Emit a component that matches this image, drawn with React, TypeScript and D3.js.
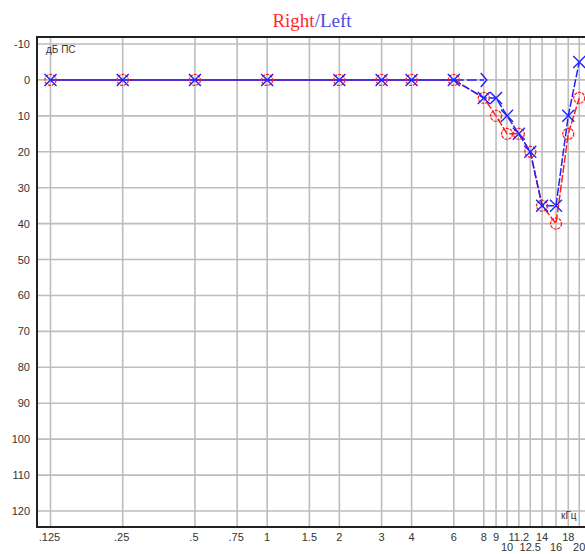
import React, { useEffect, useRef } from 'react';
import * as d3 from 'd3';

const freqTicks = [0.125, 0.25, 0.5, 0.75, 1, 1.5, 2, 3, 4, 6, 8, 9, 10, 11.2, 12.5, 14, 16, 18, 20];
const freqLabels = ['.125', '.25', '.5', '.75', '1', '1.5', '2', '3', '4', '6', '8', '9', '10', '11.2', '12.5', '14', '16', '18', '20'];
const lowerRow = ['10', '12.5', '16', '20'];
const dbTicks = [-10, 0, 10, 20, 30, 40, 50, 60, 70, 80, 90, 100, 110, 120];

const freqs = [0.125, 0.25, 0.5, 1, 2, 3, 4, 6, 8, 9, 10, 11.2, 12.5, 14, 16, 18, 20];
const rightAir = [0, 0, 0, 0, 0, 0, 0, 0, 5, 10, 15, 15, 20, 35, 40, 15, 5];
const leftAir = [0, 0, 0, 0, 0, 0, 0, 0, 5, 5, 10, 15, 20, 35, 35, 10, -5];
const boneFreqs = [0.25, 0.5, 1, 2, 3, 4, 6, 8];
const leftBone = [0, 0, 0, 0, 0, 0, 0, 0];

const App = () => {
    const ref = useRef<SVGSVGElement>(null);

    useEffect(() => {
        const svg = d3.select(ref.current);
        svg.selectAll('*').remove();

        const left = 37, top = 37, bottom = 527, right = 600;
        const x = d3.scaleLog().base(2).domain([0.125, 16]).range([50.5, 556]);
        const y = d3.scaleLinear().domain([-10, 120]).range([44, 511]);

        const g = svg.append('g');

        // grid
        g.selectAll('line.v').data(freqTicks).enter().append('line')
            .attr('x1', d => x(d)).attr('x2', d => x(d))
            .attr('y1', top).attr('y2', bottom)
            .attr('stroke', '#bdbdbd').attr('stroke-width', 1.6);
        g.selectAll('line.h').data(dbTicks).enter().append('line')
            .attr('x1', left).attr('x2', right)
            .attr('y1', d => y(d)).attr('y2', d => y(d))
            .attr('stroke', '#bdbdbd').attr('stroke-width', 1.6);

        // frame
        g.append('path')
            .attr('d', `M${right},${top}H${left}V${bottom}H${right}`)
            .attr('fill', 'none').attr('stroke', '#222').attr('stroke-width', 2);

        // y labels
        g.selectAll('text.y').data(dbTicks).enter().append('text')
            .attr('x', 30).attr('y', d => y(d) + 4)
            .attr('text-anchor', 'end')
            .style('font', '11px "Liberation Sans", Arial, sans-serif')
            .attr('fill', '#333')
            .text(d => d);

        // x labels
        g.selectAll('text.x').data(freqTicks).enter().append('text')
            .attr('x', (d, i) => x(d) + (freqLabels[i].startsWith('.') ? -1 : 0))
            .attr('y', (d, i) => lowerRow.includes(freqLabels[i]) ? 551 : 541)
            .attr('text-anchor', 'middle')
            .style('font', '11px "Liberation Sans", Arial, sans-serif')
            .attr('fill', '#333')
            .text((d, i) => freqLabels[i]);

        g.append('text').attr('x', 46).attr('y', 53)
            .style('font', '10px "Liberation Sans", Arial, sans-serif')
            .attr('fill', '#333').text('дБ ПС');
        g.append('text').attr('x', 561).attr('y', 519)
            .style('font', '10px "Liberation Sans", Arial, sans-serif')
            .attr('fill', '#333').text('кГц');

        // title
        const title = g.append('text').attr('x', 312).attr('y', 27)
            .attr('text-anchor', 'middle')
            .style('font', '19px "Liberation Serif", "Times New Roman", serif');
        title.append('tspan').attr('fill', '#ff2a2a').text('Right');
        title.append('tspan').attr('fill', '#4848e8').text('/Left');

        const rData = freqs.map((f, i) => [f, rightAir[i]] as [number, number]);
        const lData = freqs.map((f, i) => [f, leftAir[i]] as [number, number]);
        const line = d3.line<[number, number]>().x(d => x(d[0])).y(d => y(d[1]));
        const split = freqs.indexOf(6);

        // right ear lines
        g.append('path').attr('d', line(rData.slice(0, split + 1)))
            .attr('fill', 'none').attr('stroke', '#ff2020').attr('stroke-width', 1.5);
        g.append('path').attr('d', line(rData.slice(split)))
            .attr('fill', 'none').attr('stroke', '#ff2020').attr('stroke-width', 1.5)
            .attr('stroke-dasharray', '8,2');

        // left bone line
        const bData = boneFreqs.map((f, i) => [f, leftBone[i]] as [number, number]);
        g.append('path').attr('d', line(bData.slice(bData.length - 2)))
            .attr('fill', 'none').attr('stroke', '#2020ff').attr('stroke-width', 1.5)
            .attr('stroke-dasharray', '10,3');

        // left ear lines
        g.append('path').attr('d', line(lData.slice(0, split + 1)))
            .attr('fill', 'none').attr('stroke', '#2020ff').attr('stroke-width', 1.5);
        g.append('path').attr('d', line(lData.slice(split)))
            .attr('fill', 'none').attr('stroke', '#2020ff').attr('stroke-width', 1.5)
            .attr('stroke-dasharray', '8,2');

        // right circles
        g.selectAll('circle.r').data(rData).enter().append('circle')
            .attr('cx', d => x(d[0])).attr('cy', d => y(d[1])).attr('r', 5.5)
            .attr('fill', 'none').attr('stroke', '#ff2020').attr('stroke-width', 1.3)
            .attr('stroke-dasharray', '3,1');

        // left bone marker ">" at last point
        const lb = bData[bData.length - 1];
        g.append('path')
            .attr('d', `M${x(lb[0]) - 3},${y(lb[1]) - 7}L${x(lb[0]) + 3},${y(lb[1])}L${x(lb[0]) - 3},${y(lb[1]) + 7}`)
            .attr('fill', 'none').attr('stroke', '#2020ff').attr('stroke-width', 1.4);

        // left crosses
        g.selectAll('path.l').data(lData).enter().append('path')
            .attr('d', d => {
                const cx = x(d[0]), cy = y(d[1]), s = 6;
                return `M${cx - s},${cy - s}L${cx + s},${cy + s}M${cx - s},${cy + s}L${cx + s},${cy - s}`;
            })
            .attr('fill', 'none').attr('stroke', '#2020ff').attr('stroke-width', 1.4);
    }, []);

    return (
        <svg ref={ref} width={585} height={554}
            style={{ position: 'absolute', left: 0, top: 0, background: '#fff' }} />
    );
};

export default App;
